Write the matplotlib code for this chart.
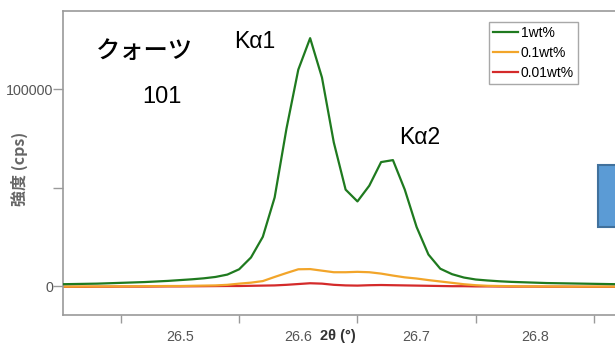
import numpy as np
import matplotlib
matplotlib.use("Agg")
import matplotlib.pyplot as plt
from matplotlib.patches import Rectangle

# ---- data ----
two_theta = [round(26.40 + 0.01 * i, 2) for i in range(48)]  # 26.40 .. 26.87

wt1 = [900, 1000, 1100, 1200, 1400, 1600, 1800, 2000, 2300, 2600,
       3000, 3400, 3900, 4600, 5800, 8500, 14500, 25000, 45000, 80000,
       110000, 126000, 106000, 73000, 49000, 43000, 51000, 63000, 64000, 49000,
       30000, 16000, 8800, 6000, 4300, 3300, 2800, 2400, 2100, 1900,
       1700, 1500, 1400, 1300, 1200, 1100, 1000, 900]

wt01 = [-300, -300, -250, -250, -200, -200, -150, -100, -50, 0,
        0, 100, 200, 300, 600, 1200, 1700, 2500, 4600, 6600,
        8500, 8600, 7800, 7000, 7000, 7200, 7000, 6300, 5300, 4400,
        3800, 3000, 2300, 1600, 900, 400, 100, 0, -100, -200,
        -200, -250, -250, -300, -300, -300, -300, -300]

wt001 = [-400, -400, -400, -350, -350, -300, -300, -300, -250, -200,
         -200, -150, -100, -50, 0, 0, 100, 200, 300, 600,
         1000, 1400, 1200, 600, 300, 200, 400, 500, 400, 300,
         200, 100, 0, -100, -100, -200, -200, -250, -300, -300,
         -300, -350, -350, -350, -400, -400, -400, -400]

series_labels = ["1wt%", "0.1wt%", "0.01wt%"]
series_colors = ["#1f7a1f", "#f2a52a", "#d42a2a"]

x_label_ticks = [26.5, 26.6, 26.7, 26.8]
x_minor_ticks = [26.45, 26.55, 26.65, 26.75, 26.85]
y_ticks = [0, 50000, 100000]
y_ticklabels = ["0", "", "100000"]

# ---- figure ----
W, H = 615, 345
fig = plt.figure(figsize=(W / 100, H / 100), dpi=100)
plt.rcParams['font.family'] = ['Liberation Sans', 'DejaVu Sans']

ax_left, ax_top, ax_bottom, ax_right = 63, 11, 315, 615
ax = fig.add_axes([ax_left / W, 1 - ax_bottom / H,
                   (ax_right - ax_left) / W, (ax_bottom - ax_top) / H])

ax.plot(two_theta, wt1, color=series_colors[0], lw=1.6, label=series_labels[0], zorder=3)
ax.plot(two_theta, wt001, color=series_colors[2], lw=1.6, label=series_labels[2], zorder=2)
ax.plot(two_theta, wt01, color=series_colors[1], lw=1.6, label=series_labels[1], zorder=2.5)

px_per_deg = 1183.0
x0_px = 180.0
ax.set_xlim(26.5 - (x0_px - ax_left) / px_per_deg, 26.5 + (ax_right - x0_px) / px_per_deg)
y0_px, y1e5_px = 286.0, 89.3
per = (y0_px - y1e5_px) / 1e5
ax.set_ylim(-(ax_bottom - y0_px) / per, (y0_px - ax_top) / per)

spine_c = "#9a9a9a"
for s in ["left", "bottom", "top"]:
    ax.spines[s].set_color(spine_c)
    ax.spines[s].set_linewidth(1.2)
ax.spines["right"].set_visible(False)

ax.set_xticks(x_label_ticks)
ax.set_xticklabels([f"{v:.1f}" for v in x_label_ticks])
ax.set_xticks(x_minor_ticks, minor=True)
ax.tick_params(axis="x", which="major", length=0, pad=11, labelsize=10.3, labelcolor="#555555")
ax.tick_params(axis="x", which="minor", length=6, width=1, color=spine_c, direction="out")
ax.set_yticks(y_ticks)
ax.set_yticklabels(y_ticklabels)
ax.tick_params(axis="y", which="major", length=7, width=1, color=spine_c, pad=0,
               labelsize=10.3, labelcolor="#555555")

ax.set_xlabel("2θ (°)", fontsize=10.5, fontweight="bold", color="#333333")
ax.xaxis.set_label_coords((338 - ax_left) / (ax_right - ax_left), (ax_bottom - 329) / (ax_bottom - ax_top))
ax.xaxis.label.set_va("top")
ax.set_ylabel("強度 (cps)", fontsize=11.5, fontweight="bold", color="#666666",
              family=["Noto Sans CJK JP", "DejaVu Sans"])
ax.yaxis.set_label_coords((28 - ax_left) / (ax_right - ax_left), (ax_bottom - 169) / (ax_bottom - ax_top))

# annotations
def ftext(px, py, s, **kw):
    fig.text(px / W, 1 - py / H, s, ha="center", va="center", **kw)

ftext(144.5, 51, "クォーツ", fontsize=17.5, fontweight="medium",
      family=["Noto Sans CJK JP", "DejaVu Sans"], color="black")
ftext(162, 97, "101", fontsize=17, color="black")
ftext(255, 41, "Kα1", fontsize=16.5, color="black")
ftext(419.5, 137, "Kα2", fontsize=16.5, color="black")

# legend
handles, labels = ax.get_legend_handles_labels()
order = [labels.index(l) for l in series_labels]
leg = ax.legend([handles[i] for i in order], [labels[i] for i in order],
                loc="upper left", bbox_to_anchor=(489.3 / W, 1 - 21.7 / H),
                bbox_transform=fig.transFigure, borderaxespad=0,
                fontsize=10, handlelength=1.8, handletextpad=0.15,
                labelspacing=0.42, borderpad=0.3, fancybox=False,
                frameon=True, edgecolor="#a8a8a8", framealpha=1)
leg.get_frame().set_linewidth(1.0)

# partially visible blue box at right edge
fig.patches.append(Rectangle((598 / W, 1 - 226.7 / H), 30 / W, 61.7 / H,
                             transform=fig.transFigure, facecolor="#5b9bd5",
                             edgecolor="#41719c", linewidth=1.5, zorder=5))

fig.savefig("out.png", dpi=100)
